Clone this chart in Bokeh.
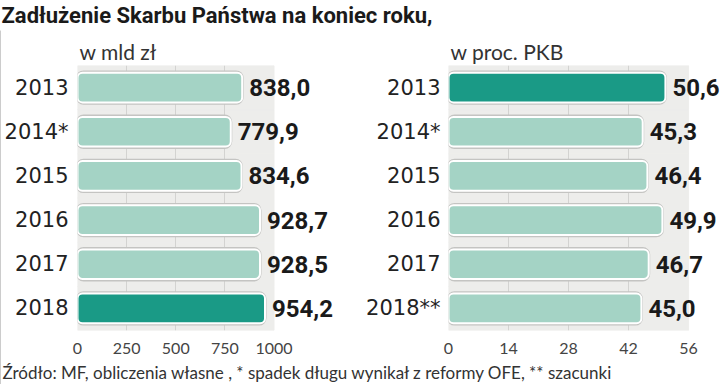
from bokeh.plotting import figure
from bokeh.models import Range1d, FactorRange, FixedTicker, ColumnDataSource
from bokeh.layouts import column, row
from bokeh.embed import file_html
from bokeh.resources import INLINE
from bokeh.core.properties import value

# ---------------- data ----------------
title_text = "Zadłużenie Skarbu Państwa na koniec roku,"
footer_text = "Źródło: MF, obliczenia własne , * spadek długu wynikał z reformy OFE, ** szacunki"

years_left = ["2013", "2014*", "2015", "2016", "2017", "2018"]
debt_bn = [838.0, 779.9, 834.6, 928.7, 928.5, 954.2]
highlight_left = "2018"
ticks_left = [0, 250, 500, 750, 1000]
subtitle_left = "w mld zł"

years_right = ["2013", "2014*", "2015", "2016", "2017", "2018**"]
debt_gdp = [50.6, 45.3, 46.4, 49.9, 46.7, 45.0]
highlight_right = "2013"
ticks_right = [0, 14, 28, 42, 56]
subtitle_right = "w proc. PKB"

# ---------------- style ----------------
LIGHT = "#a4d3c5"
DARK = "#1a9a86"
BG = "#ededeb"
PANEL_H = 328


def panel(years, vals, hi, ticks, subtitle, width, bl, xmax, standoff):
    src = ColumnDataSource(dict(
        y=years, v=vals,
        txt=[f"{v:.1f}".replace(".", ",") for v in vals],
        color=[DARK if y == hi else LIGHT for y in years],
        full=[ticks[-1]] * len(years),
    ))
    p = figure(width=width, height=PANEL_H,
               y_range=FactorRange(factors=years[::-1], range_padding=0),
               x_range=Range1d(ticks[0], xmax),
               output_backend="svg", toolbar_location=None,
               min_border_left=bl, min_border_right=0,
               min_border_top=35, min_border_bottom=28)
    p.title.text = subtitle
    p.title.text_font = "Lato"
    p.title.text_font_size = "21px"
    p.title.text_font_style = "normal"
    p.title.text_color = "#333333"
    p.title.align = "left"
    p.title.offset = 2
    p.title.standoff = 4
    p.background_fill_color = "white"
    p.border_fill_color = "white"
    p.outline_line_color = None

    # grey plot panel, as wide as the axis
    p.hbar(y="y", left=0, right="full", height=1.0, source=src,
           fill_color=BG, line_color=BG, line_width=1, level="underlay")

    # bar halo + bar with white rim
    p.hbar(y="y", left=0, right="v", height=0.71, source=src,
           fill_color=None, line_color="#c4c4c2", line_width=3, border_radius=6)
    p.hbar(y="y", left=0, right="v", height=0.67, source=src,
           fill_color="color", line_color="white", line_width=2, border_radius=5)

    p.text(x="v", y="y", text="txt", source=src, x_offset=7,
           text_align="left", text_baseline="middle",
           text_font=value("Roboto"), text_font_size="24px",
           text_font_style="bold", text_color="#1a1a1a")

    p.xaxis.ticker = FixedTicker(ticks=ticks)
    p.xaxis.axis_line_color = None
    p.xaxis.major_tick_line_color = None
    p.xaxis.minor_tick_line_color = None
    p.xaxis.major_label_text_font = "Lato"
    p.xaxis.major_label_text_font_size = "16px"
    p.xaxis.major_label_text_color = "#444444"
    p.xaxis.major_label_standoff = 6

    p.yaxis.axis_line_color = None
    p.yaxis.major_tick_line_color = None
    p.yaxis.major_tick_out = 0
    p.yaxis.major_label_text_font = "DejaVu Sans"
    p.yaxis.major_label_text_font_size = "21px"
    p.yaxis.major_label_text_color = "#222222"
    p.yaxis.major_label_standoff = standoff

    p.xgrid.ticker = FixedTicker(ticks=ticks[1:-1])
    p.xgrid.grid_line_color = "#d3d3d1"
    p.xgrid.level = "underlay"
    p.ygrid.grid_line_color = None
    return p


def text_strip(txt, width, height, ypos, size, style, font, color):
    f = figure(width=width, height=height, x_range=Range1d(0, width), y_range=Range1d(0, height),
               output_backend="svg", toolbar_location=None, min_border=0,
               x_axis_location=None, y_axis_location=None)
    f.outline_line_color = None
    f.grid.visible = False
    f.text(x=[1], y=[ypos], text=[txt], text_baseline="middle", text_align="left",
           text_font=value(font), text_font_size=size, text_font_style=style, text_color=color)
    return f


header = text_strip(title_text, 720, 30, 15, "22px", "bold", "Roboto", "#1a1a1a")
footer = text_strip(footer_text, 719, 26, 12, "17px", "normal", "Lato", "#333333")

# thin grey rule on the left edge
rule = figure(width=1, height=PANEL_H + 26, output_backend="svg", toolbar_location=None,
              min_border=0, x_axis_location=None, y_axis_location=None,
              x_range=Range1d(0, 1), y_range=Range1d(0, 1))
rule.background_fill_color = "#9a9a9a"
rule.border_fill_color = "#9a9a9a"
rule.outline_line_color = None
rule.grid.visible = False

p1 = panel(years_left, debt_bn, highlight_left, ticks_left, subtitle_left, 359, 75,
           ticks_left[-1] * 1.44, 9)
p2 = panel(years_right, debt_gdp, highlight_right, ticks_right, subtitle_right, 360, 88,
           ticks_right[-1] * 1.133, 8)

layout = column(header, row(rule, column(row(p1, p2), footer)))

open("out.html", "w").write(file_html(layout, INLINE))
